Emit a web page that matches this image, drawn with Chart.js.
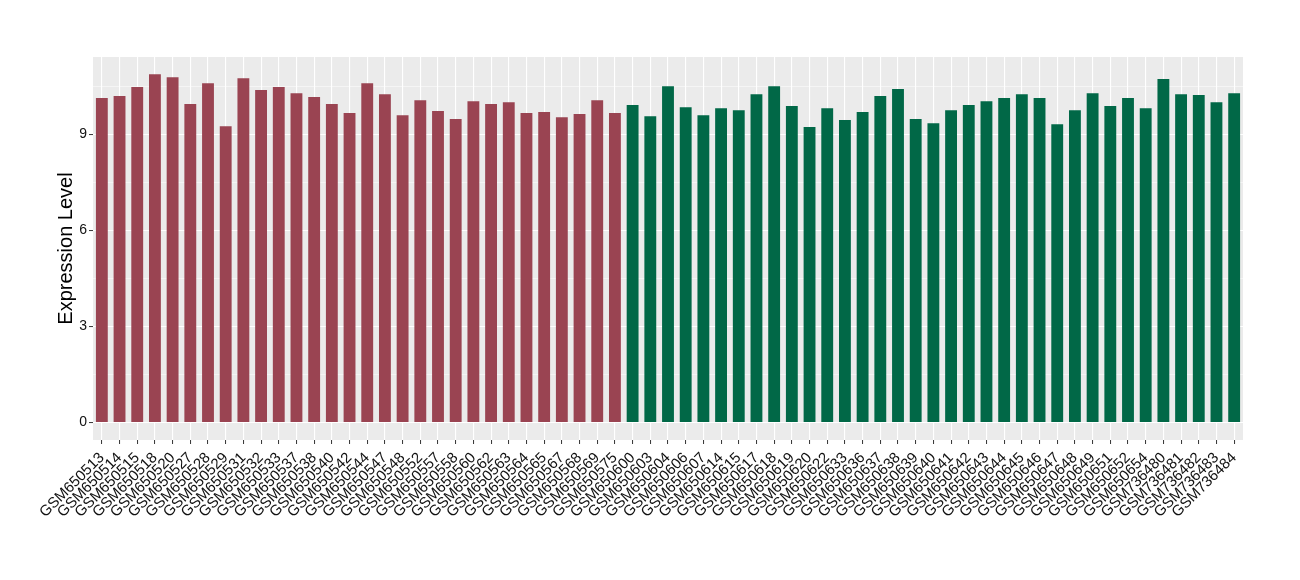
<!DOCTYPE html>
<html>
<head>
<meta charset="utf-8">
<script src="https://cdn.jsdelivr.net/npm/chart.js@4.4.0/dist/chart.umd.min.js"></script>
<style>
  html, body { margin: 0; padding: 0; background: #fff; }
  #wrap { width: 1300px; height: 580px; position: relative; }
</style>
</head>
<body>
<div id="wrap"><canvas id="bar-chart" width="1300" height="580"></canvas></div>
<script>
// sample ids and expression values, two groups
var groupALabels = ["GSM650513","GSM650514","GSM650515","GSM650518","GSM650520","GSM650527","GSM650528","GSM650529","GSM650531","GSM650532",
  "GSM650533","GSM650537","GSM650538","GSM650540","GSM650542","GSM650544","GSM650547","GSM650548","GSM650552","GSM650557",
  "GSM650558","GSM650560","GSM650562","GSM650563","GSM650564","GSM650565","GSM650567","GSM650568","GSM650569","GSM650575"];
var groupAValues = [10.14,10.20,10.48,10.88,10.79,9.95,10.60,9.26,10.76,10.39,
  10.48,10.29,10.17,9.95,9.67,10.60,10.26,9.60,10.07,9.73,
  9.48,10.04,9.95,10.01,9.67,9.70,9.54,9.64,10.07,9.67];

var groupBLabels = ["GSM650600","GSM650603","GSM650604","GSM650606","GSM650607","GSM650614","GSM650615","GSM650617","GSM650618","GSM650619",
  "GSM650620","GSM650622","GSM650633","GSM650636","GSM650637","GSM650638","GSM650639","GSM650640","GSM650641","GSM650642",
  "GSM650643","GSM650644","GSM650645","GSM650646","GSM650647","GSM650648","GSM650649","GSM650651","GSM650652","GSM650654",
  "GSM736480","GSM736481","GSM736482","GSM736483","GSM736484"];
var groupBValues = [9.92,9.57,10.51,9.85,9.60,9.82,9.76,10.26,10.51,9.89,
  9.23,9.82,9.45,9.70,10.20,10.42,9.48,9.35,9.76,9.92,
  10.04,10.14,10.26,10.14,9.32,9.76,10.29,9.89,10.14,9.82,
  10.73,10.26,10.23,10.01,10.29];

var yTicks = [0, 1.5, 3, 4.5, 6, 7.5, 9, 10.5];

var colorA = "#9A4452";
var colorB = "#016847";

var labels = groupALabels.concat(groupBLabels);
var values = groupAValues.concat(groupBValues);
var colors = groupALabels.map(function(){ return colorA; })
  .concat(groupBLabels.map(function(){ return colorB; }));

// grey ggplot-like panel
var panelBg = {
  id: 'panelBg',
  beforeDraw: function(chart) {
    var a = chart.chartArea, ctx = chart.ctx;
    ctx.save();
    ctx.fillStyle = '#EBEBEB';
    ctx.fillRect(a.left, a.top, a.right - a.left, a.bottom - a.top);
    ctx.restore();
  }
};

function isMajor(v) { return Math.abs(v % 3) < 1e-6; }

new Chart(document.getElementById("bar-chart"), {
  type: 'bar',
  data: {
    labels: labels,
    datasets: [{
      data: values,
      backgroundColor: colors,
      borderWidth: 0,
      barPercentage: 0.67,
      categoryPercentage: 1
    }]
  },
  options: {
    responsive: false,
    animation: false,
    layout: { padding: { top: 57, right: 57, left: 0, bottom: 0 } },
    plugins: {
      legend: { display: false },
      tooltip: { enabled: false }
    },
    scales: {
      x: {
        offset: true,
        border: { display: false },
        grid: {
          offset: false,
          color: '#FFFFFF',
          lineWidth: 1.1,
          tickLength: 4,
          tickColor: '#333333',
          tickWidth: 1
        },
        ticks: {
          autoSkip: false,
          maxRotation: 45,
          minRotation: 45,
          padding: 5,
          color: '#111111',
          font: { family: 'Liberation Sans, Arial, sans-serif', size: 15 }
        },
        afterFit: function(scale) { scale.height = 140; }
      },
      y: {
        min: -0.544,
        max: 11.42,
        border: { display: false },
        afterBuildTicks: function(scale) {
          scale.ticks = yTicks.map(function(v){ return { value: v }; });
        },
        grid: {
          color: '#FFFFFF',
          lineWidth: function(c) { return isMajor(c.tick.value) ? 1.1 : 0.5; },
          tickLength: 4,
          tickColor: function(c) { return isMajor(c.tick.value) ? '#333333' : 'rgba(0,0,0,0)'; },
          tickWidth: 1
        },
        ticks: {
          padding: 2,
          color: '#111111',
          font: { family: 'Liberation Sans, Arial, sans-serif', size: 14 },
          callback: function(v) { return isMajor(v) ? String(v) : ''; }
        },
        title: {
          display: true,
          text: 'Expression Level',
          color: '#000000',
          padding: { top: 54, bottom: 0 },
          font: { family: 'Liberation Sans, Arial, sans-serif', size: 20 }
        },
        afterFit: function(scale) { scale.width = 93; }
      }
    }
  },
  plugins: [panelBg]
});
</script>
</body>
</html>
